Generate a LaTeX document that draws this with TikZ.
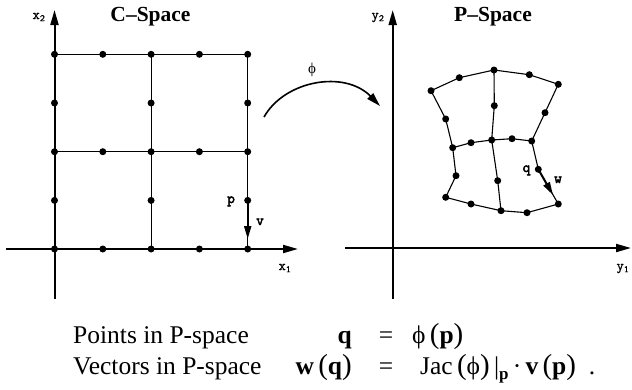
\documentclass[tikz,border=0pt]{standalone}
\usepackage{fontspec}
\setmainfont{Liberation Serif}
\newfontfamily\labtt{Latin Modern Mono}[AutoFakeBold=1]
\newfontfamily\vectt{Latin Modern Mono}[AutoFakeBold=3]
\usetikzlibrary{arrows.meta}
\newcommand\mylp{{\fontsize{29}{29}\selectfont(}}
\newcommand\myrp{{\fontsize{29}{29}\selectfont)}}
\begin{document}
\begin{tikzpicture}[x=1pt,y=-1pt,
  gridline/.style={line width=1.1pt},
  axis/.style={line width=2pt,-{Triangle[length=15pt,width=8pt]}},
  dot/.style={circle,fill,inner sep=0pt,minimum size=7pt},
  vec/.style={line width=2pt,-{Triangle[length=13pt,width=7pt]}},
  axlab/.style={font=\fontsize{14}{14}\selectfont\labtt\bfseries,anchor=base,inner sep=0pt},
  veclab/.style={font=\fontsize{15}{15}\selectfont\vectt\bfseries,anchor=base,inner sep=0pt},
  title/.style={font=\fontsize{21.5}{21.5}\selectfont\bfseries,anchor=base,inner sep=0pt},
  txt/.style={font=\fontsize{25.5}{25.5}\selectfont,anchor=base west,inner sep=0pt},
]
\useasboundingbox (0,0) rectangle (632,389);

% ---------- C-space ----------
\foreach \i/\x in {0/54.5,1/102.8,2/151.1,3/199.4,4/247.7}
  \foreach \j/\y in {0/54.3,1/103,2/151.7,3/200.4,4/249}
    \coordinate (g\i\j) at (\x,\y);
\coordinate (x2b) at (54.5,299);
\coordinate (x2t) at (54.5,10);
\coordinate (x1l) at (6,249);
\coordinate (x1r) at (298,249);
\draw[axis] (x2b) -- (x2t);
\draw[axis] (x1l) -- (x1r);
\draw[gridline] (g00) -- (g40);
\draw[gridline] (g02) -- (g42);
\draw[gridline] (g20) -- (g24);
\draw[gridline] (g40) -- (g44);
\foreach \i in {0,...,4}
  \foreach \j in {0,2,4}
    \node[dot] (L\i\j) at (g\i\j) {};
\foreach \i in {0,2,4}
  \foreach \j in {1,3}
    \node[dot] (L\i\j) at (g\i\j) {};
\coordinate (vtip) at (247.7,239);
\draw[vec] (L43.center) -- (vtip);
\node[veclab] (plab) at (231,203) {p};
\node[veclab] (vlab) at (260,225) {v};
\node[axlab] (x2lab) at (39,19) {x\textsubscript{2}};
\node[axlab] (x1lab) at (285,270) {x\textsubscript{1}};
\node[title] (ctitle) at (150.5,21) {C–Space};

% ---------- mapping arrow ----------
\coordinate (phS) at (264,117);
\coordinate (phE) at (380,106);
\draw[line width=1.6pt,-{Triangle[length=14pt,width=8pt]}] (phS) .. controls (285,80) and (345,70) .. (phE);
\node[font=\fontsize{15}{15}\selectfont,anchor=base,inner sep=0pt] (philab) at (312,73) {ϕ};

% ---------- P-space ----------
\coordinate (y2b) at (392.7,299);
\coordinate (y2t) at (392.7,10);
\coordinate (y1l) at (345,248);
\coordinate (y1r) at (631,248);
\draw[axis] (y2b) -- (y2t);
\draw[axis] (y1l) -- (y1r);
\node[axlab] (y2lab) at (378,19) {y\textsubscript{2}};
\node[axlab] (y1lab) at (623,270) {y\textsubscript{1}};
\node[title] (ptitle) at (493,21) {P–Space};

\foreach \n/\p in {t0/{431,90.7},t1/{459.3,77.7},t2/{494,70},t3/{529.3,74.7},t4/{558.3,84.3},
  u0/{445.7,119},u2/{494.3,105.7},u4/{545,112.7},
  c0/{452.7,147.7},c1/{471,142.7},c2/{491.7,140},c3/{512,138.7},c4/{531.7,141},
  l0/{456,175.7},l2/{497.7,180.7},l4/{538.3,169.3},
  b0/{445.7,197.3},b1/{471,204},b2/{501,210.7},b3/{527,212.7},b4/{558.3,204}}
  \node[dot] (\n) at (\p) {};
\draw[gridline] (t0.center) -- (t1.center) -- (t2.center) -- (t3.center) -- (t4.center);
\draw[gridline] (c0.center) -- (c1.center) -- (c2.center) -- (c3.center) -- (c4.center);
\draw[gridline] (b0.center) -- (b1.center) -- (b2.center) -- (b3.center) -- (b4.center);
\draw[gridline] (t0.center) -- (u0.center) -- (c0.center) -- (l0.center) -- (b0.center);
\draw[gridline] (t2.center) -- (u2.center) -- (c2.center) -- (l2.center) -- (b2.center);
\draw[gridline] (t4.center) -- (u4.center) -- (c4.center) -- (l4.center) -- (b4.center);
\coordinate (wtip) at (553,195);
\draw[vec] (l4.center) -- (wtip);
\node[veclab] (qlab) at (526.5,172) {q};
\node[veclab] (wlab) at (558,183) {w};

% ---------- formulas ----------
\node[txt] (line1) at (73,343) {Points in P-space};
\node[txt] (line2) at (73,374) {Vectors in P-space};
\node[txt,anchor=base east] (lq) at (352,343) {\textbf{q}};
\node[txt,anchor=base] (eq1) at (386,343) {=};
\node[txt] (rq) at (412,343) {ϕ\,\mylp\textbf{p}\myrp};
\node[txt,anchor=base east] (lw) at (352,374) {\textbf{w}\,\mylp\textbf{q}\myrp};
\node[txt,anchor=base] (eq2) at (386,374) {=};
\node[txt] (rw) at (420,374) {Jac\,\mylp ϕ\myrp\,|\raisebox{-5pt}{\fontsize{17}{17}\selectfont\bfseries p}\,·\,\textbf{v}\,\mylp\textbf{p}\myrp\ \ .};
\end{tikzpicture}
\end{document}
